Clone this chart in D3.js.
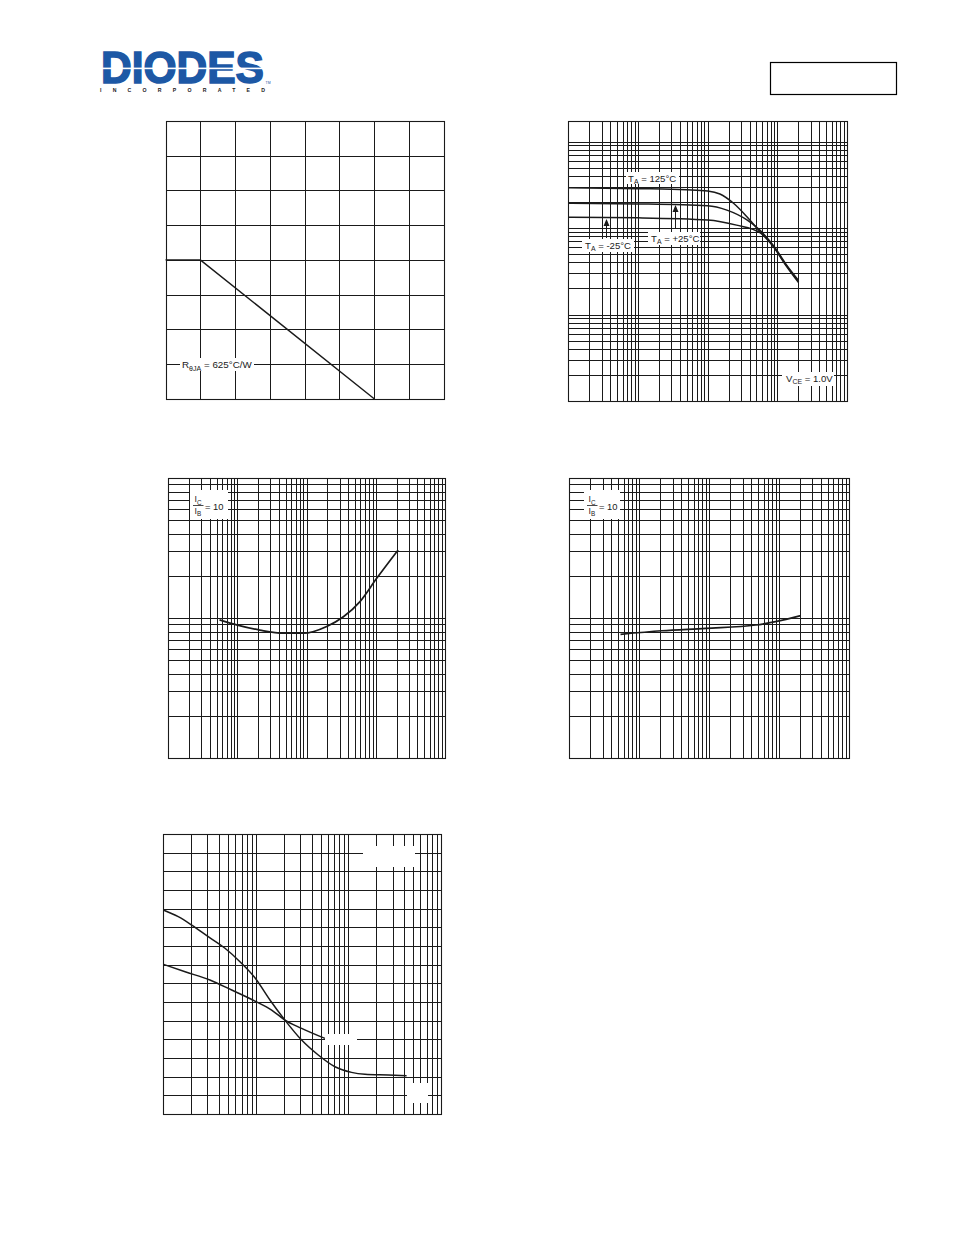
<!DOCTYPE html>
<html><head><meta charset="utf-8">
<script src="https://cdn.jsdelivr.net/npm/d3@7"></script>
<style>html,body{margin:0;padding:0;background:#fff}</style>
</head><body>
<svg id="page" width="954" height="1235"></svg>
<script>
// ---------------- DATA ----------------
// Chart 1: power derating (Ta in °C, Pd in mW)
const deratingTa = [0, 25, 150];
const deratingPd = [200, 200, 0];
const derateXTicks = [0, 25, 50, 75, 100, 125, 150, 175, 200];
const derateYTicks = [0, 50, 100, 150, 200, 250, 300, 350, 400];

// Chart 2: DC current gain vs collector current (mA)
const hfeIc125 = [0.1, 1, 5, 10, 15, 23.5, 36.6, 56.8, 88, 137, 202];
const hfe125   = [292, 285, 277, 268, 247, 193, 135, 90, 60.5, 35.5, 23.3];
const hfeIc25  = [0.1, 1, 10, 18.9, 36.6, 63, 88, 137, 202];
const hfe25    = [193, 190, 181, 161, 124, 86, 61.5, 36.2, 24];
const hfeIcM25 = [0.1, 1, 10, 26, 57, 67, 88, 137, 202];
const hfeM25   = [133, 131, 124, 108, 88, 80, 62.5, 37, 24.7];

// Chart 3: VCE(sat) vs IC
const vceSatIc = [0.55, 1, 2.1, 4.6, 9, 19.5, 34, 59, 103, 210];
const vceSat   = [0.097, 0.089, 0.082, 0.0778, 0.0778, 0.087, 0.102, 0.131, 0.192, 0.306];

// Chart 4: VBE(sat) vs IC
const vbeSatIc = [0.54, 2.1, 8.9, 46, 89, 204];
const vbeSat   = [0.765, 0.811, 0.844, 0.891, 0.941, 1.04];

// Chart 5: capacitance vs reverse voltage
const capVrA = [0.1, 0.145, 0.203, 0.306, 0.464, 0.673, 0.977, 1.42, 2.06, 3.12, 4.72, 7.15, 10.8, 15.1, 26.9, 42.5];
const capA   = [10.93, 10.57, 10.12, 9.5, 8.88, 8.16, 7.3, 6.11, 5.03, 3.96, 3.16, 2.53, 2.23, 2.13, 2.09, 2.05];
const capVrB = [0.1, 0.172, 0.319, 0.548, 0.977, 1.48, 2.06, 3.12, 5.57];
const capB   = [8.02, 7.62, 7.18, 6.64, 6.05, 5.57, 5.03, 4.59, 4.05];
const capYTicks = d3.range(0, 16, 1);

// ---------------- DRAWING ----------------
const FONT = "'Liberation Sans', Arial, Helvetica, sans-serif";
const INK = "#1a1a1a";
const svg = d3.select('#page');
svg.append('rect').attr('width', 954).attr('height', 1235).attr('fill', '#fff');

// Logo
const logo = svg.append('text').attr('x', 0).attr('y', 0)
  .attr('font-family', FONT).attr('font-weight', 'bold').attr('font-size', 45)
  .attr('fill', '#1d58a5').attr('stroke', '#1d58a5').attr('stroke-width', 1.6)
  .text('DIODES');
const logoW = logo.node().getComputedTextLength() || 174;
logo.attr('transform', `translate(101,83) scale(${163 / logoW},1)`);
svg.append('rect').attr('x', 98).attr('y', 67.6).attr('width', 168).attr('height', 1.6).attr('fill', '#fff');
svg.append('text').attr('x', 265.5).attr('y', 84).attr('font-family', FONT).attr('font-size', 3.5)
  .attr('fill', '#1d58a5').text('TM');
svg.append('text').attr('x', 100).attr('y', 92.3)
  .attr('font-family', FONT).attr('font-weight', 'bold').attr('font-size', 5.2)
  .attr('fill', '#222').attr('textLength', 165).attr('lengthAdjust', 'spacing')
  .text('INCORPORATED');
svg.append('rect').attr('x', 770.5).attr('y', 62.5).attr('width', 126).attr('height', 32)
  .attr('fill', 'none').attr('stroke', '#000').attr('stroke-width', 1.2);

function logGrid(lo, hi) {
  const out = [];
  for (let k = Math.floor(Math.log10(lo)) - 1; k <= Math.ceil(Math.log10(hi)); k++)
    for (let m = 1; m <= 9; m++) {
      const v = m * Math.pow(10, k);
      if (v >= lo * 0.999 && v <= hi * 1.001) out.push(v);
    }
  return out;
}
const px = v => Math.round(v) + 0.5;

function panel(cfg) {
  const g = svg.append('g');
  const { x, y, xTicks, yTicks, L, R, T, B } = cfg;
  const xs = xTicks.map(d => x(d)).filter(p => p > L + 1 && p < R - 1);
  const ys = yTicks.map(d => y(d)).filter(p => p > T + 1 && p < B - 1);
  g.selectAll('line.gx').data(xs).join('line').attr('class', 'gx')
    .attr('x1', d => px(d)).attr('x2', d => px(d)).attr('y1', px(T)).attr('y2', px(B))
    .attr('stroke', INK).attr('stroke-width', 1);
  g.selectAll('line.gy').data(ys).join('line').attr('class', 'gy')
    .attr('y1', d => px(d)).attr('y2', d => px(d)).attr('x1', px(L)).attr('x2', px(R))
    .attr('stroke', INK).attr('stroke-width', 1);
  g.append('rect').attr('x', px(L)).attr('y', px(T))
    .attr('width', Math.round(R) - Math.round(L)).attr('height', Math.round(B) - Math.round(T))
    .attr('fill', 'none').attr('stroke', INK).attr('stroke-width', 1.1);
  return g;
}
function curve(g, x, y, xs, ys, w, interp) {
  const pts = xs.map((d, i) => [d, ys[i]]);
  g.append('path').datum(pts)
    .attr('d', d3.line().x(d => x(d[0])).y(d => y(d[1])).curve(interp || d3.curveMonotoneX))
    .attr('fill', 'none').attr('stroke', INK).attr('stroke-width', w)
    .attr('stroke-linejoin', 'round').attr('stroke-linecap', 'butt');
}
function whiteBox(g, x0, y0, w, h) {
  g.append('rect').attr('x', x0).attr('y', y0).attr('width', w).attr('height', h).attr('fill', '#fff');
}
// parts: [[text, isSub], ...]
function richText(g, x0, yb, parts, fs) {
  const t = g.append('text').attr('x', x0).attr('y', yb)
    .attr('font-family', FONT).attr('font-size', fs).attr('fill', INK);
  let sub = false;
  parts.forEach(([s, isSub]) => {
    const ts = t.append('tspan').text(s);
    if (isSub && !sub) { ts.attr('dy', fs * 0.3).attr('font-size', fs * 0.72); sub = true; }
    else if (isSub) { ts.attr('font-size', fs * 0.72); }
    else if (!isSub && sub) { ts.attr('dy', -fs * 0.3); sub = false; }
  });
  return t;
}

// ---- Chart 1: derating ----
{
  const L = 165.5, R = 443.7, T = 121, B = 398.7;
  const x = d3.scaleLinear().domain([0, 200]).range([L, R]);
  const y = d3.scaleLinear().domain([0, 400]).range([B, T]);
  const g = panel({ x, y, xTicks: derateXTicks, yTicks: derateYTicks, L, R, T, B });
  curve(g, x, y, deratingTa, deratingPd, 1.4, d3.curveLinear);
  whiteBox(g, 180, 358, 74, 13);
  richText(g, 182, 368, [['R', false], ['θJA', true], [' = 625°C/W', false]], 9.8);
}

// ---- Chart 2: hFE vs IC ----
{
  const L = 568.3, R = 847, T = 121, B = 401;
  const dec = 86.5;
  const x = d3.scaleLog().domain([0.1, 1000]).range([L, R]);
  const y = d3.scaleLog().domain([1, 1000]).range([B, B - 3 * dec]);
  const g = panel({ x, y, xTicks: logGrid(0.1, 1000), yTicks: logGrid(1, y.invert(T)), L, R, T, B });
  curve(g, x, y, hfeIc125, hfe125, 1.5);
  curve(g, x, y, hfeIc25, hfe25, 1.5);
  curve(g, x, y, hfeIcM25, hfeM25, 1.5);
  // labels
  whiteBox(g, 626, 172, 53, 12);
  richText(g, 628, 181.5, [['T', false], ['A', true], [' = 125°C', false]], 9.6);
  whiteBox(g, 648, 232, 52, 13);
  richText(g, 651, 241.5, [['T', false], ['A', true], [' = +25°C', false]], 9.6);
  whiteBox(g, 582, 239, 52, 13);
  richText(g, 585, 248.5, [['T', false], ['A', true], [' = -25°C', false]], 9.6);
  whiteBox(g, 782, 372, 52, 14);
  richText(g, 786, 381.5, [['V', false], ['CE', true], [' = 1.0V', false]], 9.6);
  // arrows
  const arrow = (ax, y0, y1) => {
    g.append('line').attr('x1', ax).attr('x2', ax).attr('y1', y0).attr('y2', y1 + 6)
      .attr('stroke', INK).attr('stroke-width', 1);
    g.append('path').attr('d', `M${ax - 3},${y1 + 7}L${ax},${y1}L${ax + 3},${y1 + 7}Z`).attr('fill', INK);
  };
  arrow(606.5, 238, 219);
  arrow(675.5, 228, 205);
}

// ---- Chart 3: VCE(sat) ----
{
  const L = 168.3, R = 445, T = 478, B = 758;
  const x = d3.scaleLog().domain([0.1, 1000]).range([L, R]);
  const y = d3.scaleLog().domain([0.01, 1]).range([B, T]);
  const g = panel({ x, y, xTicks: logGrid(0.1, 1000), yTicks: logGrid(0.01, 1), L, R, T, B });
  curve(g, x, y, vceSatIc, vceSat, 1.7);
  whiteBox(g, 190, 490, 38, 29);
  richText(g, 194.5, 502, [['I', false], ['C', true]], 8.8);
  g.append('line').attr('x1', 193).attr('x2', 203.5).attr('y1', 505.5).attr('y2', 505.5).attr('stroke', INK).attr('stroke-width', 0.8);
  richText(g, 194.5, 513.5, [['I', false], ['B', true]], 8.8);
  richText(g, 205, 509.5, [['= 10', false]], 9.4);
}

// ---- Chart 4: VBE(sat) ----
{
  const L = 569.3, R = 849, T = 478, B = 758;
  const x = d3.scaleLog().domain([0.1, 1000]).range([L, R]);
  const y = d3.scaleLog().domain([0.1, 10]).range([B, T]);
  const g = panel({ x, y, xTicks: logGrid(0.1, 1000), yTicks: logGrid(0.1, 10), L, R, T, B });
  curve(g, x, y, vbeSatIc, vbeSat, 1.7);
  whiteBox(g, 584, 490, 36, 29);
  richText(g, 588.5, 502, [['I', false], ['C', true]], 8.8);
  g.append('line').attr('x1', 587).attr('x2', 597.5).attr('y1', 505.5).attr('y2', 505.5).attr('stroke', INK).attr('stroke-width', 0.8);
  richText(g, 588.5, 513.5, [['I', false], ['B', true]], 8.8);
  richText(g, 599, 509.5, [['= 10', false]], 9.4);
}

// ---- Chart 5: capacitance ----
{
  const L = 163.3, R = 441, T = 834, B = 1114;
  const x = d3.scaleLog().domain([0.1, 100]).range([L, R]);
  const y = d3.scaleLinear().domain([0, 15]).range([B, T]);
  const g = panel({ x, y, xTicks: logGrid(0.1, 100), yTicks: capYTicks, L, R, T, B });
  curve(g, x, y, capVrA, capA, 1.5);
  curve(g, x, y, capVrB, capB, 1.5);
  whiteBox(g, 363, 846, 52, 21);
  whiteBox(g, 325, 1034, 32, 11);
  whiteBox(g, 407, 1083, 21, 20);
}
</script>
</body></html>
